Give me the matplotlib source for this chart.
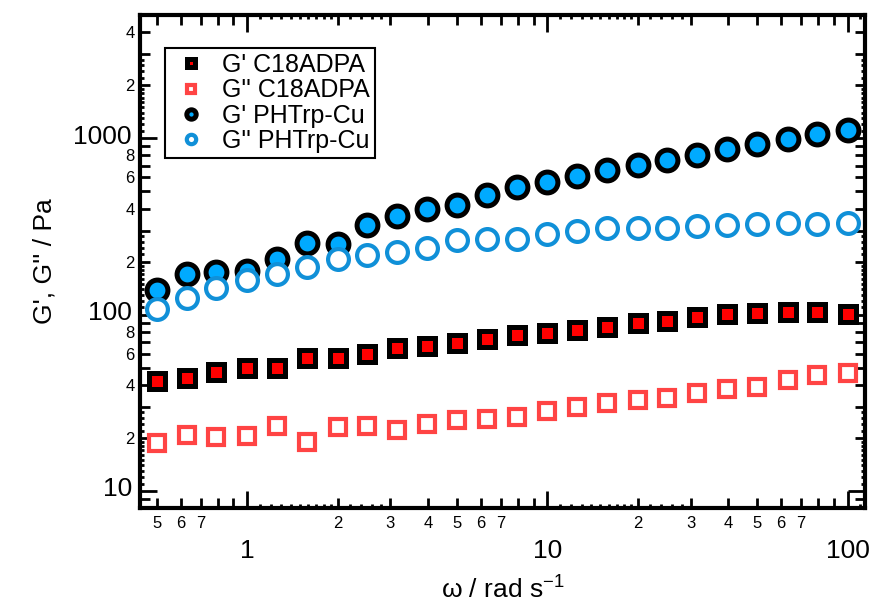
import numpy as np
import matplotlib
matplotlib.use("Agg")
import matplotlib.pyplot as plt
import matplotlib.transforms as mtransforms
from matplotlib.ticker import FixedLocator, FuncFormatter

plt.rcParams["font.family"] = ["Liberation Sans", "DejaVu Sans"]
plt.rcParams["mathtext.default"] = "regular"

# frequency (rad/s), 10 points per decade
omega = [0.5, 0.63, 0.79, 1.0, 1.26, 1.58, 2.0, 2.51, 3.16, 3.98, 5.0, 6.31,
         7.94, 10.0, 12.6, 15.8, 20.0, 25.1, 31.6, 39.8, 50.1, 63.1, 79.4, 100.0]

g1_c18 = [42.2, 43.5, 47.5, 49.6, 50.0, 56.9, 56.5, 59.7, 64.3, 66.5, 69.5, 72.3,
          76.5, 78.9, 81.7, 85.3, 89.1, 91.9, 96.4, 100.6, 102, 104, 104, 100.6]
g2_c18 = [18.6, 20.7, 20.1, 20.5, 23.3, 19.0, 23.1, 23.3, 22.2, 23.9, 25.3, 25.5,
          26.4, 28.5, 29.8, 31.6, 32.8, 33.5, 35.8, 37.7, 39.0, 42.5, 45.4, 46.5]
g1_phtrp = [138, 171, 175, 178, 208, 255, 252, 321, 361, 400, 421, 480,
            530, 565, 611, 659, 710, 757, 808, 875, 934, 996, 1063, 1120]
g2_phtrp = [108, 124, 141, 157, 171, 187, 208, 217, 227, 240, 264, 267,
            270, 286, 298, 312, 312, 312, 317, 321, 326, 329, 326, 329]

labels = ["G' C18ADPA", "G'' C18ADPA", "G' PHTrp-Cu", "G'' PHTrp-Cu"]

fig = plt.figure(figsize=(8.76, 6.08), dpi=100)
ax = fig.add_axes([0.160, 0.1645, 0.827, 0.8105])

ax.plot(omega, g1_c18, ls="none", marker="s", ms=11.5, mew=3.6,
        mfc="#ff0000", mec="black", label=labels[0])
ax.plot(omega, g2_c18, ls="none", marker="s", ms=12, mew=3.0,
        mfc="white", mec="#ff4444", label=labels[1])
ax.plot(omega, g1_phtrp, ls="none", marker="o", ms=15, mew=3.6,
        mfc="#00aaff", mec="black", label=labels[2])
ax.plot(omega, g2_phtrp, ls="none", marker="o", ms=15, mew=3.0,
        mfc="white", mec="#1090d8", label=labels[3])

ax.set_xscale("log")
ax.set_yscale("log")
ax.set_xlim(0.44, 114)
ax.set_ylim(8.0, 5000)

for s in ax.spines.values():
    s.set_linewidth(3)

# ticks: majors at decades, minors at 2..9 plus tiny ones near 1-3
decades = [0.1, 1, 10, 100, 1000]
minor_pos = []
tiny = set()
for d in decades:
    for m in [1.1, 1.2, 1.3, 1.4, 1.5, 1.6, 1.7, 1.8, 1.9, 2.2, 2.4, 2.6, 2.8]:
        minor_pos.append(m * d)
        tiny.add(round(m * d, 6))
    for m in range(2, 10):
        minor_pos.append(m * d)
minor_pos = sorted(minor_pos)

xlab = {0.5: "5", 0.6: "6", 0.7: "7"}
for d in [1, 10]:
    for m in [2, 3, 4, 5, 6, 7]:
        xlab[round(m * d, 6)] = str(m)
ylab = {}
for d in [10, 100]:
    for m in [2, 4, 6, 8]:
        ylab[round(m * d, 6)] = str(m)
ylab[2000] = "2"
ylab[4000] = "4"

ax.xaxis.set_major_locator(FixedLocator([1, 10, 100]))
ax.yaxis.set_major_locator(FixedLocator([10, 100, 1000]))
ax.xaxis.set_major_formatter(FuncFormatter(lambda v, p: "%g" % v))
ax.yaxis.set_major_formatter(FuncFormatter(lambda v, p: "%g" % v))
ax.xaxis.set_minor_locator(FixedLocator(minor_pos))
ax.yaxis.set_minor_locator(FixedLocator(minor_pos))
ax.xaxis.set_minor_formatter(FuncFormatter(lambda v, p: xlab.get(round(v, 6), "")))
ax.yaxis.set_minor_formatter(FuncFormatter(lambda v, p: ylab.get(round(v, 6), "")))

ax.tick_params(which="both", direction="in", top=True, right=True, width=2)
ax.tick_params(which="major", length=12, labelsize=19)
ax.tick_params(which="minor", length=7, labelsize=12)
ax.tick_params(axis="x", which="major", pad=22)
ax.tick_params(axis="x", which="minor", pad=6)
ax.tick_params(axis="y", which="major", pad=6)
ax.tick_params(axis="y", which="minor", pad=4)

for axis in (ax.xaxis, ax.yaxis):
    locs = axis.get_minorticklocs()
    for t, loc in zip(axis.get_minor_ticks(len(locs)), locs):
        if round(loc, 6) in tiny:
            t.tick1line.set_markersize(3)
            t.tick2line.set_markersize(3)

# lift the big y labels a little so they clear the small "8"
shift = mtransforms.ScaledTranslation(0, 3 / 72, fig.dpi_scale_trans)
for lab in ax.yaxis.get_majorticklabels():
    lab.set_transform(lab.get_transform() + shift)

ax.set_xlabel("ω / rad s$^{-1}$", fontsize=19, labelpad=10)
ax.set_ylabel("G', G'' / Pa", fontsize=19, labelpad=12)

leg = ax.legend(loc="upper left", bbox_to_anchor=(0.034, 0.933), borderaxespad=0,
                fontsize=18, markerscale=0.45, handlelength=1.7, handletextpad=0.4,
                borderpad=0.2, labelspacing=0.05, fancybox=False, framealpha=1,
                edgecolor="black")
leg.get_frame().set_linewidth(1.5)

fig.savefig("out.png", dpi=100)
